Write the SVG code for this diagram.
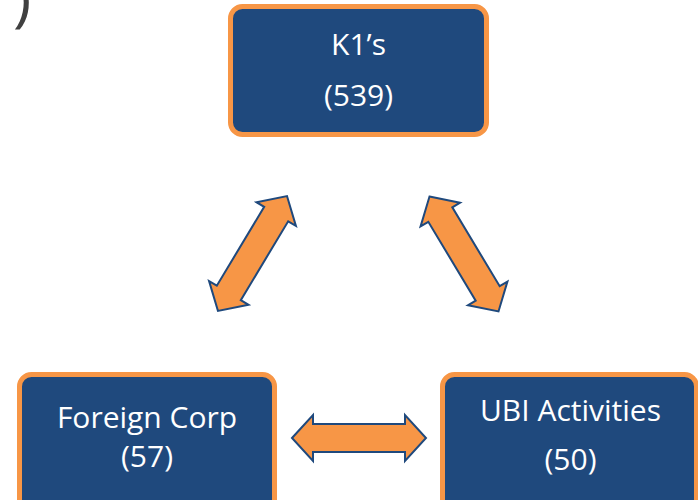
<svg xmlns="http://www.w3.org/2000/svg" width="698" height="500" viewBox="0 0 698 500">
<style>
.box{fill:#1F497D;stroke:#F79646;stroke-width:5}
.lbl{font-family:"Open Sans","Noto Sans",sans-serif;font-size:30px;fill:#FFFFFF;text-anchor:middle}
.arr{fill:#F79646;stroke:#1F497D;stroke-width:2;stroke-linejoin:miter}
</style>
<defs>
<polygon id="dbl" points="-67,0 -46,-23 -46,-14 46,-14 46,-23 67,0 46,23 46,14 -46,14 -46,23"/>
</defs>
<rect width="698" height="500" fill="#FFFFFF"/>
<text x="13" y="20" font-family="'Open Sans',sans-serif" font-size="62" fill="#404040">)</text>
<g id="connectors">
<use href="#dbl" class="arr" transform="translate(252.5,253.5) rotate(-59)"/>
<use href="#dbl" class="arr" transform="translate(464,254) rotate(59)"/>
<use href="#dbl" class="arr" transform="translate(359,438)"/>
</g>
<g id="k1s">
<rect class="box" x="230.5" y="6.5" width="256" height="128" rx="12"/>
<text class="lbl" x="358.5" y="55">K1’s</text>
<text class="lbl" x="358.5" y="106">(539)</text>
</g>
<g id="foreign-corp">
<rect class="box" x="19.5" y="374.5" width="255" height="140" rx="12"/>
<text class="lbl" x="147" y="428">Foreign Corp</text>
<text class="lbl" x="147" y="467">(57)</text>
</g>
<g id="ubi-activities">
<rect class="box" x="442.5" y="374.5" width="254" height="140" rx="12"/>
<text class="lbl" x="570.5" y="421">UBI Activities</text>
<text class="lbl" x="570.5" y="470">(50)</text>
</g>
</svg>
